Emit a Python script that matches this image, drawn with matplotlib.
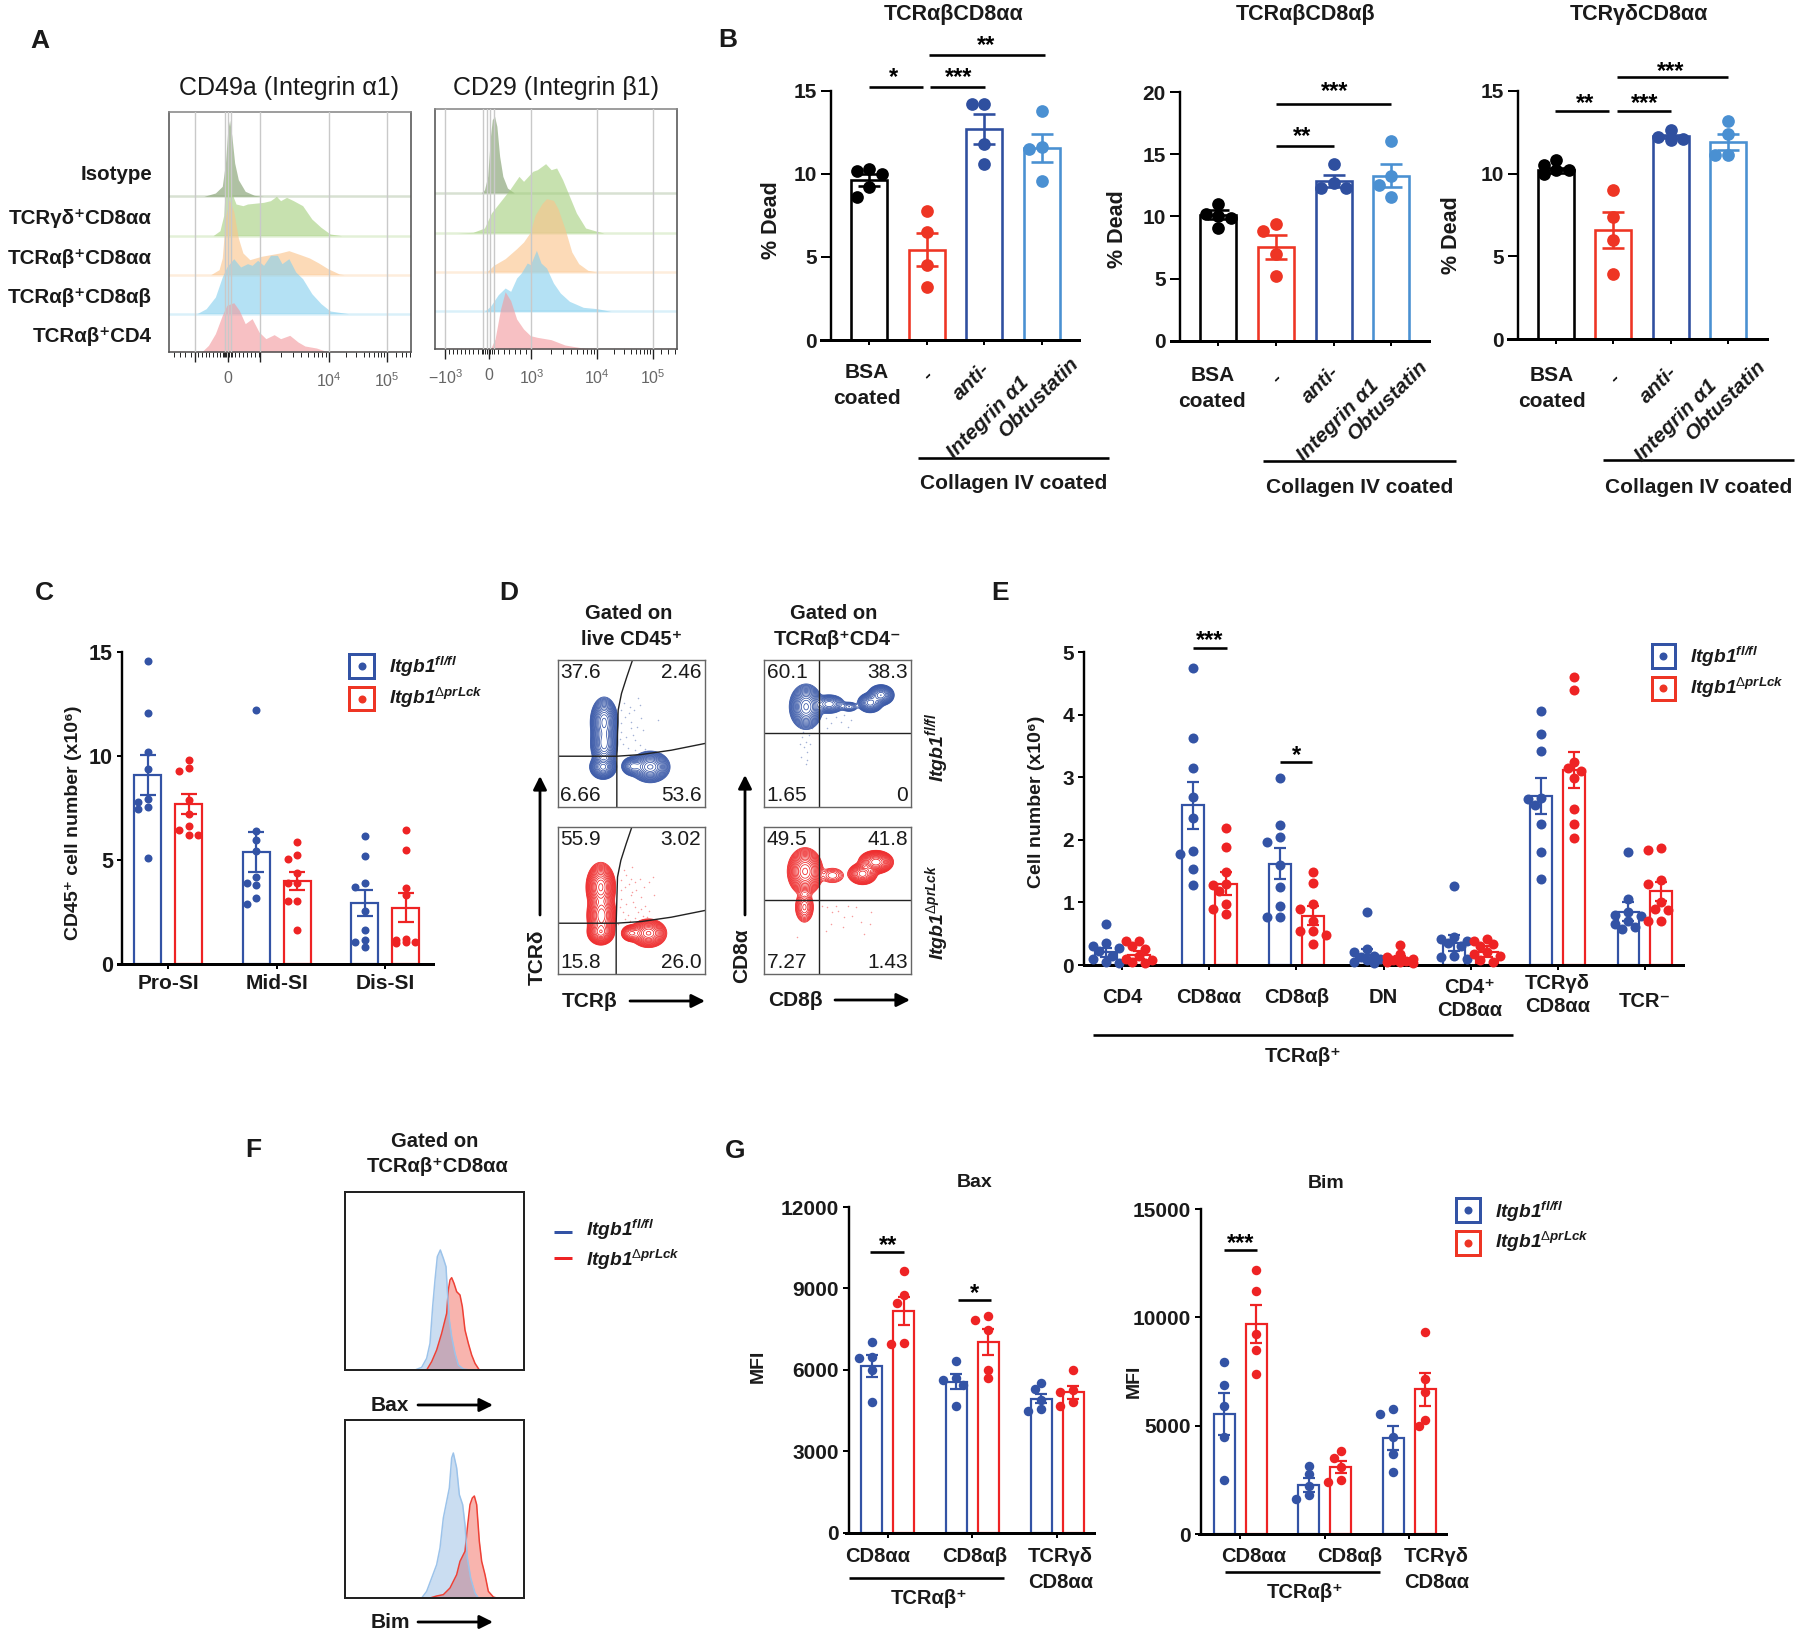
import numpy as np
import matplotlib
matplotlib.use("Agg")
import matplotlib.pyplot as plt
from matplotlib.patches import Rectangle

plt.rcParams['font.family'] = ['Liberation Sans', 'DejaVu Sans']
plt.rcParams['mathtext.fontset'] = 'custom'
plt.rcParams['mathtext.rm'] = 'Liberation Sans'
plt.rcParams['mathtext.it'] = 'Liberation Sans:italic'
plt.rcParams['mathtext.bf'] = 'Liberation Sans:bold'
plt.rcParams['mathtext.bfit'] = 'Liberation Sans:italic:bold'

W, H = 1800, 1635
BLUE, RED, LBLUE = '#3353a5', '#ee2324', '#4a90d2'
BRED = '#ee3524'
FL = r'$\mathbfit{Itgb1}^{\mathbfit{fl/fl}}$'
DP = r'$\mathbfit{Itgb1}^{\Delta\mathbfit{prLck}}$'

# ---------- Panel A: histograms (channel position, height above row baseline)
a_rows = ['Isotype', 'TCRγδ⁺CD8αα', 'TCRαβ⁺CD8αα', 'TCRαβ⁺CD8αβ', 'TCRαβ⁺CD4']
a_left_x = [
    [445, 470, 485, 492, 497, 501, 506, 512, 520, 535, 555, 575],
    [465, 480, 488, 493, 498, 505, 515, 530, 540, 575, 590, 603, 612, 625, 640, 660, 680, 700, 720, 745],
    [460, 478, 485, 492, 500, 510, 520, 530, 545, 570, 590, 610, 630, 655, 675, 695, 715, 740, 750],
    [430, 450, 470, 485, 495, 510, 525, 540, 550, 562, 575, 590, 605, 615, 630, 645, 660, 680, 700, 720, 760],
    [440, 455, 470, 485, 495, 510, 522, 535, 550, 565, 580, 598, 612, 632, 650, 665, 690, 715]]
a_left_h = [
    [0, 10, 30, 100, 200, 228, 180, 100, 50, 15, 3, 0],
    [0, 15, 60, 170, 222, 130, 95, 90, 95, 100, 105, 118, 105, 115, 105, 90, 50, 25, 5, 0],
    [0, 15, 50, 170, 225, 190, 110, 65, 45, 55, 60, 65, 72, 60, 50, 35, 18, 2, 0],
    [0, 15, 50, 110, 140, 165, 140, 150, 145, 160, 145, 175, 175, 150, 165, 125, 105, 60, 30, 8, 0],
    [0, 20, 55, 110, 140, 148, 125, 85, 100, 60, 40, 52, 40, 50, 30, 18, 12, 0]]
a_right_x = [
    [1048, 1055, 1062, 1068, 1072, 1077, 1082, 1088, 1095, 1105, 1120],
    [995, 1030, 1055, 1070, 1090, 1110, 1130, 1140, 1160, 1170, 1188, 1200, 1212, 1225, 1240, 1255, 1275, 1300, 1315],
    [1060, 1075, 1100, 1125, 1140, 1155, 1165, 1180, 1190, 1205, 1215, 1230, 1245, 1260, 1280, 1300],
    [1055, 1068, 1085, 1100, 1112, 1125, 1135, 1148, 1155, 1168, 1178, 1190, 1205, 1220, 1240, 1270, 1300, 1330],
    [1068, 1078, 1090, 1100, 1112, 1125, 1140, 1155, 1170, 1200, 1230, 1260, 1285]]
a_right_h = [
    [0, 10, 50, 170, 220, 230, 200, 110, 50, 15, 0],
    [0, 2, 15, 60, 95, 130, 170, 155, 185, 190, 208, 190, 195, 160, 110, 60, 15, 5, 0],
    [0, 20, 40, 70, 90, 120, 170, 205, 220, 215, 190, 130, 60, 25, 5, 0],
    [0, 15, 50, 70, 60, 100, 115, 145, 140, 183, 145, 130, 85, 55, 30, 12, 8, 0],
    [0, 30, 120, 172, 145, 90, 60, 40, 35, 28, 12, 5, 0]]
a_colors = ['#7f9c6b', '#a5d07f', '#fbc48c', '#86d0ee', '#f39a9e']

# ---------- Panel B
b_titles = ['TCRαβCD8αα', 'TCRαβCD8αβ', 'TCRγδCD8αα']
b1_means = [9.65, 5.45, 12.7, 11.55]
b1_sem = [0.35, 1.0, 0.9, 0.85]
b1_pts = [[10.3, 10.0, 10.2, 9.2, 8.6], [7.8, 6.5, 4.5, 3.2], [14.2, 14.2, 11.8, 10.6], [13.8, 11.6, 11.5, 9.6]]
b2_means = [10.15, 7.55, 12.85, 13.3]
b2_sem = [0.35, 0.95, 0.5, 0.95]
b2_pts = [[11.0, 10.2, 10.0, 9.9, 9.05], [9.4, 8.8, 7.0, 5.2], [14.2, 12.7, 12.3, 12.3], [16.1, 13.3, 12.5, 11.6]]
b3_means = [10.2, 6.6, 12.25, 11.9]
b3_sem = [0.15, 1.1, 0.1, 0.5]
b3_pts = [[10.8, 10.5, 10.2, 10.2, 10.0], [9.0, 7.35, 6.0, 3.95], [12.6, 12.2, 12.1, 12.05], [13.2, 12.4, 11.1, 11.1]]
b_colors = ['black', BRED, '#2f4f9f', LBLUE]

# ---------- Panel C
c_groups = ['Pro-SI', 'Mid-SI', 'Dis-SI']
c_fl_means = [9.1, 5.4, 2.95]
c_fl_sem = [0.98, 0.95, 0.62]
c_fl_pts = [[14.6, 12.1, 10.2, 9.4, 7.95, 7.8, 7.55, 7.45, 5.1],
            [12.2, 6.4, 5.95, 5.45, 4.2, 3.9, 3.8, 3.2, 2.9],
            [6.15, 5.2, 3.9, 3.7, 2.55, 1.65, 1.15, 1.05, 0.8]]
c_dp_means = [7.7, 4.0, 2.7]
c_dp_sem = [0.5, 0.45, 0.7]
c_dp_pts = [[9.8, 9.45, 9.3, 7.9, 7.2, 6.65, 6.45, 6.2, 6.2],
            [5.85, 5.25, 5.05, 4.4, 3.9, 3.9, 3.05, 3.05, 1.65],
            [6.45, 5.5, 3.65, 3.3, 1.2, 1.15, 1.05, 1.05, 1.0]]

# ---------- Panel D: flow plots
d_tl_blobs = [(139, 185, 14, 25, 1), (139, 250, 14, 25, .85), (136, 320, 14, 13, .8),
              (277, 320, 20, 16, 1), (225, 318, 13, 11, .35)]
d_bl_blobs = [(129, 180, 15, 25, 1), (131, 265, 15, 26, .9), (129, 315, 14, 13, .8),
              (272, 318, 19, 15, .75), (220, 318, 12, 10, .25)]
d_tr_blobs = [(126, 140, 17, 23, 1), (195, 132, 18, 11, .3), (255, 140, 12, 7, .08),
              (318, 128, 14, 11, .5), (350, 105, 14, 11, .7)]
d_br_blobs = [(123, 133, 18, 24, 1), (121, 240, 12, 20, .15), (205, 145, 18, 12, .06),
              (335, 105, 18, 12, .9), (295, 140, 16, 12, .5)]
d_tl_vals = ['37.6', '2.46', '6.66', '53.6']
d_bl_vals = ['55.9', '3.02', '15.8', '26.0']
d_tr_vals = ['60.1', '38.3', '1.65', '0']
d_br_vals = ['49.5', '41.8', '7.27', '1.43']
d_tl_dots_x = [190, 200, 212, 220, 228, 236, 245, 190, 205, 218, 232, 250, 195, 210, 225, 245, 260, 190, 215, 240, 185, 198, 230, 255, 300]
d_tl_dots_y = [150, 170, 160, 185, 150, 200, 135, 215, 230, 205, 240, 175, 250, 262, 225, 255, 265, 190, 140, 115, 235, 130, 270, 210, 180]
d_bl_dots_x = [190, 200, 212, 222, 232, 245, 258, 272, 285, 190, 205, 218, 232, 248, 262, 195, 210, 225, 240, 255, 272, 190, 205, 220, 235, 200, 215, 232, 250, 268, 186, 198, 288, 180, 222]
d_bl_dots_y = [160, 180, 170, 195, 165, 155, 180, 165, 150, 215, 230, 205, 240, 210, 235, 255, 262, 225, 255, 265, 250, 190, 145, 155, 190, 275, 280, 272, 245, 270, 240, 130, 205, 290, 120]
d_tr_dots_x = [115, 125, 135, 120, 130, 112, 128, 118, 138, 125, 185, 200, 215, 230, 250, 190, 240, 108, 145, 260]
d_tr_dots_y = [230, 245, 225, 260, 275, 290, 300, 215, 250, 310, 175, 190, 170, 185, 200, 205, 165, 250, 205, 180]
d_br_dots_x = [190, 205, 222, 240, 262, 290, 318, 200, 235, 275, 320, 175, 185, 215, 100, 250, 298]
d_br_dots_y = [240, 255, 250, 270, 265, 285, 290, 290, 300, 240, 255, 235, 310, 235, 330, 235, 320]

# ---------- Panel E
e_groups = ['CD4', 'CD8αα', 'CD8αβ', 'DN', 'CD4⁺\nCD8αα', 'TCRγδ\nCD8αα', 'TCR⁻']
e_fl_means = [.2, 2.55, 1.62, .16, .35, 2.7, .85]
e_fl_sem = [.07, .38, .25, .1, .13, .29, .15]
e_fl_pts = [[.66, .35, .3, .27, .22, .15, .1, .05, .03],
            [4.75, 3.63, 3.15, 2.69, 2.35, 1.82, 1.78, 1.53, 1.28],
            [2.99, 2.24, 2.05, 1.97, 1.6, 1.25, .95, .76, .76],
            [.84, .25, .2, .15, .12, .1, .08, .05, .03],
            [1.26, .44, .42, .38, .35, .3, .15, .13, .1],
            [4.05, 3.69, 3.42, 2.67, 2.65, 2.55, 2.25, 1.8, 1.37],
            [1.8, 1.05, .85, .8, .78, .7, .65, .6, .58]]
e_dp_means = [.16, 1.3, .79, .1, .21, 3.12, 1.18]
e_dp_sem = [.06, .18, .15, .05, .09, .29, .15]
e_dp_pts = [[.39, .39, .3, .25, .15, .1, .08, .05, .03],
            [2.19, 1.89, 1.48, 1.3, 1.28, 1.18, .98, .9, .82],
            [1.48, 1.31, .98, .9, .7, .55, .55, .48, .33],
            [.32, .18, .13, .1, .08, .07, .05, .04, .03],
            [.42, .38, .33, .3, .2, .18, .15, .08, .05],
            [4.6, 4.4, 3.25, 3.15, 3.1, 2.98, 2.5, 2.25, 2.03],
            [1.87, 1.84, 1.35, 1.3, 1.0, .9, .88, .7, .7]]

# ---------- Panel F histograms
f_bax_fl_x = [555, 575, 590, 600, 608, 615, 622, 631, 640, 648, 652, 658, 665, 675, 685, 700, 720]
f_bax_fl_h = [0, 8, 35, 80, 190, 270, 340, 360, 335, 310, 240, 150, 100, 50, 15, 3, 0]
f_bax_dp_x = [590, 605, 620, 635, 650, 655, 660, 665, 672, 680, 690, 697, 705, 715, 725, 735, 748]
f_bax_dp_h = [0, 25, 60, 110, 170, 240, 270, 277, 260, 235, 225, 190, 120, 80, 45, 20, 0]
f_bim_fl_x = [575, 590, 605, 620, 630, 640, 650, 658, 665, 670, 680, 688, 698, 705, 712, 722, 735, 745]
f_bim_fl_h = [0, 20, 60, 100, 150, 240, 290, 330, 420, 435, 390, 310, 280, 220, 120, 60, 15, 0]
f_bim_dp_x = [600, 620, 640, 660, 680, 690, 705, 712, 720, 727, 733, 740, 748, 755, 765, 775, 790, 800]
f_bim_dp_h = [0, 6, 10, 30, 70, 110, 140, 210, 280, 300, 306, 280, 170, 110, 70, 20, 3, 0]

# ---------- Panel G
g_bax_fl_means = [6150, 5570, 4940]
g_bax_fl_sem = [400, 270, 170]
g_bax_fl_pts = [[7020, 6490, 6420, 6000, 4800], [6340, 5700, 5620, 5450, 4680], [5500, 5300, 4900, 4550, 4500]]
g_bax_dp_means = [8180, 7020, 5180]
g_bax_dp_sem = [520, 490, 240]
g_bax_dp_pts = [[9650, 8750, 8480, 7000, 6950], [8000, 7850, 7450, 6000, 5700], [5990, 5250, 5200, 4800, 4650]]
g_bim_fl_means = [5550, 2250, 4420]
g_bim_fl_sem = [970, 330, 560]
g_bim_fl_pts = [[7950, 6900, 5900, 4500, 2500], [3150, 2750, 2200, 1800, 1600], [5750, 5550, 4500, 3700, 2850]]
g_bim_dp_means = [9700, 3080, 6680]
g_bim_dp_sem = [880, 285, 770]
g_bim_dp_pts = [[12200, 11200, 9250, 8500, 7400], [3830, 3500, 3100, 2500, 2400], [9320, 7150, 6550, 5250, 5000]]

# =====================================================================
fig = plt.figure(figsize=(W / 100, H / 100), dpi=100, facecolor='white')
PT = 100 / 72


def bx(x):
    return 720 + (x - 720) * 0.9945


def ex(x):
    return 1000 + (x - 1000) * 0.9949


def gx(x):
    return 720 + (x - 720) * 0.9948


def ax_px(x0, x1, ytop, ybot):
    return fig.add_axes([x0 / W, 1 - ybot / H, (x1 - x0) / W, (ybot - ytop) / H])


ov = fig.add_axes([0, 0, 1, 1], zorder=20)
ov.set_xlim(0, W)
ov.set_ylim(H, 0)
ov.axis('off')
ov.patch.set_alpha(0)


def T(x, y, s, size=15, weight='bold', ha='center', va='center', **kw):
    ov.text(x, y, s, fontsize=size, fontweight=weight, ha=ha, va=va, color=kw.pop('color', '#1a1a1a'), **kw)


def L(x0, x1, y, lw=2.6, c='black'):
    ov.plot([x0, x1], [y, y], color=c, lw=lw / PT, solid_capstyle='butt')


def star(x, y, s, size=17):
    T(x, y + 5, s, size=size, color='black')


def arrow(x0, y0, x1, y1):
    ov.annotate('', xy=(x1, y1), xytext=(x0, y0),
                arrowprops=dict(arrowstyle='-|>', lw=2.0, color='black', mutation_scale=20,
                                shrinkA=0, shrinkB=0))


def swarm(vals, k, dot, step, maxoff):
    cands = [0, -step, step, -2 * step, 2 * step, -3 * step, 3 * step]
    cands = [c for c in cands if abs(c) <= maxoff]
    placed = []
    for v in sorted(vals, reverse=True):
        y = v * k
        best, bestd = 0, -1
        for off in cands:
            d = min([np.hypot(off - o, y - q) for q, o in placed], default=1e9)
            if d >= dot * .85:
                best = off
                break
            if d > bestd:
                best, bestd = off, d
        placed.append((y, best))
    return np.array([p[0] / k for p in placed]), np.array([p[1] for p in placed])


def bar_panel(x0, x1, spine_x, ytop, ybot, ymax, yticks, c0, pitch, barw, series, labels_fs=15,
              dot=13, step=9, lw=2.4, xticks=None, ticklen=5, ylen=6):
    ax = ax_px(x0, x1, ytop, ybot)
    ax.set_xlim((x0 - c0) / pitch, (x1 - c0) / pitch)
    ax.set_ylim(0, ymax)
    ax.patch.set_alpha(0)
    k = (ybot - ytop) / ymax
    for s in ('top', 'right'):
        ax.spines[s].set_visible(False)
    ax.spines['left'].set_position(('data', (spine_x - c0) / pitch))
    ax.spines['left'].set_linewidth(2.4 / PT)
    ax.spines['bottom'].set_linewidth(3.0 / PT)
    ax.set_yticks(yticks)
    ax.tick_params(axis='y', length=ylen / PT, width=2 / PT, labelsize=labels_fs, pad=3)
    for t in ax.get_yticklabels():
        t.set_fontweight('bold')
        t.set_color('#1a1a1a')
    ax.set_xticks(xticks if xticks is not None else [])
    ax.set_xticklabels([])
    ax.tick_params(axis='x', length=ticklen / PT, width=2 / PT)
    for pos, means, sem, pts, col in series:
        ax.bar(pos, means, width=barw / pitch, fill=False, edgecolor=col, linewidth=lw / PT, zorder=2)
        ax.errorbar(pos, means, yerr=sem, fmt='none', ecolor=col, elinewidth=lw / PT,
                    capsize=barw * .3 / PT, capthick=lw / PT, zorder=4)
        for p, vals in zip(pos, pts):
            v, o = swarm(vals, k, dot, step, barw * .62)
            ax.scatter(p + o / pitch, v, s=(dot / PT) ** 2, color=col, linewidths=0, zorder=3, clip_on=False)
    return ax


def legend(x0, x1, y0, y1, y2, y3, tx, ty0, ty1, dot=8, size=13.8):
    for (a, b, c) in ((y0, y1, BLUE), (y2, y3, BRED)):
        ov.add_patch(Rectangle((x0, a), x1 - x0, b - a, fill=False, ec=c, lw=3 / PT))
        ov.scatter([(x0 + x1) / 2], [(a + b) / 2], s=(dot / PT) ** 2, color=c, linewidths=0)
    T(tx, ty0, FL, size=size, ha='left')
    T(tx, ty1, DP, size=size, ha='left')


# ---------- A
def hist_panel(x0, x1, ytop, ybot, xl, baselines, xs, hs, vgrid, majors, minors, labels):
    ax = ax_px(x0, x1, ytop, ybot)
    ax.set_xlim(*xl)
    ax.set_ylim(0, (ybot - ytop) * 3)
    for g in vgrid:
        ax.axvline(g, color='#c9c9c9', lw=1.4 / PT, zorder=4)
    for b, x, h, c in zip(baselines, xs, hs, a_colors):
        ax.fill_between(x, b, np.array(h) + b, color=c, alpha=.62, lw=0, zorder=2)
        ax.axhline(b, color=c, alpha=.3, lw=2.5 / PT, zorder=1)
    ax.set_yticks([])
    ax.set_xticks(majors)
    ax.set_xticklabels(labels, fontsize=11.5, color='#666666')
    ax.set_xticks(minors, minor=True)
    ax.tick_params(axis='x', which='major', length=7, width=1.0, color='#222222', pad=7)
    ax.tick_params(axis='x', which='minor', length=3.5, width=.7, color='#222222')
    for s in ax.spines.values():
        s.set_color('#555555')
        s.set_linewidth(1.6 / PT)
    ax.spines['top'].set_color('#888888')


def decade(s, e, n=10):
    return [s + (e - s) * np.log10(i) for i in range(2, n)]


al_majors = [425, 497, 567, 717, 843]
al_minor = list(range(380, 425, 12)) + list(range(433, 490, 8)) + [486, 490, 493, 500, 503, 506] + \
    list(range(512, 567, 9)) + decade(567, 717) + decade(717, 843) + [864, 876, 886, 893]
ar_majors = [970, 1065, 1157, 1300, 1421]
ar_minor = list(range(977, 1050, 9)) + [1052, 1056, 1060, 1068, 1071, 1075] + list(range(1085, 1157, 12)) + \
    decade(1157, 1300) + decade(1300, 1421) + [1440, 1455, 1470]
hist_panel(169, 411, 112, 352, (369, 896), [467, 349, 232, 115, 0], a_left_x, a_left_h,
           [425, 490, 497, 503, 567, 717, 843], al_majors, al_minor, ['', '0', '', '$10^{4}$', '$10^{5}$'])
hist_panel(435.3, 676.6, 109, 349, (948, 1473), [468, 348, 231, 113, 0], a_right_x, a_right_h,
           [970, 1052, 1060, 1068, 1075, 1157, 1300, 1421], ar_majors, ar_minor,
           ['$-10^{3}$', '0', '$10^{3}$', '$10^{4}$', '$10^{5}$'])
T(289, 88, 'CD49a (Integrin α1)', size=18, weight='normal')
T(556, 88, 'CD29 (Integrin β1)', size=18, weight='normal')
for y, s in zip([174, 218, 258, 297, 336], a_rows):
    T(152, y, s, size=14.8, ha='right')

# ---------- panel letters
for x, y, s in [(40, 41, 'A'), (728, 40, 'B'), (44, 593, 'C'), (509, 593, 'D'), (1000, 593, 'E'),
                (253, 1150, 'F'), (735, 1151, 'G')]:
    T(x, y, s, size=19)

# ---------- B
b_sets = [(820.7, 1079.3, 831, 91, 340, 15, [0, 5, 10, 15], 869, 57.5, b1_means, b1_sem, b1_pts),
          (bx(1173), bx(1433), bx(1182.6), 92.3, 340.7, 20, [0, 5, 10, 15, 20], bx(1221), 57.7, b2_means, b2_sem, b2_pts),
          (1507.7, 1766.7, 1518, 90.7, 339.3, 15, [0, 5, 10, 15], 1556, 57.3, b3_means, b3_sem, b3_pts)]
for x0, x1, sx, yt, yb, ym, ticks, c0, pitch, means, sem, pts in b_sets:
    pos = np.arange(len(means))
    series = [([p], [m], [e], [q], c) for p, m, e, q, c in zip(pos, means, sem, pts, b_colors)]
    bar_panel(x0, x1, sx, yt, yb, ym, ticks, c0, pitch, 36, series, dot=12.7, step=12.5, lw=2.6,
              xticks=pos, ticklen=5, ylen=10)
for x, s in zip([955, 1309, 1644], b_titles):
    T(bx(x), 14, s, size=15.5)
for x, y in [(772, 220), (1120, 229), (1455.5, 235)]:
    T(bx(x), y, '% Dead', size=15.5, rotation=90)
for dx, dy, cx, lx0, lx1, ly, ty in [(0, 0, 867.5, 919, 1111, 457.7, 483),
                                     (351, 3, 1215, 1266, 1459.6, 461, 487),
                                     (691, 3, 1556.5, 1608, 1800, 460, 487)]:
    T(bx(cx), 372 + dy, 'BSA')
    T(bx(cx), 398 + dy, 'coated')
    T(bx(929 + dx), 375 + dy, '-', style='italic', rotation=45)
    T(bx(973 + dx), 382 + dy, 'anti-', style='italic', rotation=45)
    T(bx(990 + dx), 417 + dy, 'Integrin α1', style='italic', rotation=45)
    T(bx(1041 + dx), 397 + dy, 'Obtustatin', style='italic', rotation=45)
    L(bx(lx0), bx(lx1), ly)
    T(bx((lx0 + lx1) / 2), ty, 'Collagen IV coated')
for x0, x1, y, sx, sy, s in [(869.6, 924, 86.7, 894, 73, '*'), (931, 986.6, 86.7, 960, 73, '***'),
                             (930, 1047, 55, 988, 41, '**'), (1279, 1337, 145.7, 1305, 131.7, '**'),
                             (1279, 1395, 104, 1338, 87, '***'), (1560, 1614, 111, 1590, 99, '**'),
                             (1622, 1676, 111, 1650, 99, '***'), (1622, 1734, 76.7, 1675.6, 66.7, '***')]:
    L(bx(x0), bx(x1), y)
    star(bx(sx), sy, s)

# ---------- C
cp = np.arange(3)
bar_panel(118, 433, 122, 652.3, 964, 15, [0, 5, 10, 15], 168, 108.5, 27,
          [(cp - 20.5 / 108.5, c_fl_means, c_fl_sem, c_fl_pts, BLUE),
           (cp + 20.5 / 108.5, c_dp_means, c_dp_sem, c_dp_pts, RED)],
          labels_fs=15.5, dot=8, step=9.5, lw=2.2, xticks=cp, ylen=5)
for x, s in zip([168, 277, 385], c_groups):
    T(x, 983, s, size=15)
T(73, 823, 'CD45⁺ cell number (x10⁶)', size=14, rotation=90)
legend(349, 374, 654, 678, 687, 710, 389, 667, 698)


# ---------- D
def flow(x0, ytop, blobs, col, dx, dy, vline, hline, gate, vals):
    ax = ax_px(x0, x0 + 147, ytop, ytop + 147)
    ax.set_xlim(0, 440)
    ax.set_ylim(440, 0)
    X, Y = np.meshgrid(np.linspace(0, 440, 441), np.linspace(0, 440, 441))
    Z = np.zeros_like(X)
    for cx, cy, sx, sy, a in blobs:
        Z += a * np.exp(-((X - cx) ** 2 / (2 * sx ** 2) + (Y - cy) ** 2 / (2 * sy ** 2)))
    ax.contour(X, Y, Z, levels=np.geomspace(.012, .92, 17), colors=col, linewidths=.55)
    ax.scatter(dx, dy, s=1.2, color=col, alpha=.45, linewidths=0)
    if gate:
        ax.plot([0, vline, 250, 340, 440], [hline, hline, 283, 270, 250], color='#222222', lw=1.0)
        ax.plot([vline, vline, vline + 4, vline + 14, vline + 30, vline + 47],
                [440, hline, 150, 100, 50, 0], color='#222222', lw=1.0)
    else:
        ax.axvline(vline, color='#222222', lw=1.0)
        ax.axhline(hline, color='#222222', lw=1.0)
    ax.set_xticks([])
    ax.set_yticks([])
    for s in ax.spines.values():
        s.set_color('#666666')
        s.set_linewidth(1.4 / PT)
    for (px, py, ha), v in zip([(8, 38, 'left'), (430, 38, 'right'), (8, 406, 'left'), (430, 406, 'right')], vals):
        ax.text(px, py, v, fontsize=15, ha=ha, va='center', color='#1a1a1a')


flow(557.7, 660, d_tl_blobs, BLUE, d_tl_dots_x, d_tl_dots_y, 177, 288, True, d_tl_vals)
flow(557.7, 827, d_bl_blobs, RED, d_bl_dots_x, d_bl_dots_y, 175, 288, True, d_bl_vals)
flow(764, 660, d_tr_blobs, BLUE, d_tr_dots_x, d_tr_dots_y, 164, 218, False, d_tr_vals)
flow(764, 827, d_br_blobs, RED, d_br_dots_x, d_br_dots_y, 164, 218, False, d_br_vals)
T(629, 613, 'Gated on', size=14.5)
T(632, 639, 'live CD45⁺', size=14.5)
T(834, 613, 'Gated on', size=14.5)
T(838, 639, 'TCRαβ⁺CD4⁻', size=14.5)
arrow(540, 915, 540, 776)
arrow(745, 915, 745, 775)
arrow(630, 1001, 705, 1001)
arrow(835, 1000, 910, 1000)
T(537, 957, 'TCRδ', rotation=90)
T(742, 956, 'CD8α', rotation=90)
T(590, 1001, 'TCRβ')
T(795, 1000, 'CD8β')
T(937, 747, FL, size=14, rotation=90)
T(937, 912, DP, size=14, rotation=90)

# ---------- E
ep = np.arange(7)
bar_panel(ex(1084.6), ex(1686), ex(1084.6), 652, 965, 5, [0, 1, 2, 3, 4, 5], ex(1123), 87.05, 21.5,
          [(ep - 16.4 / 87.05, e_fl_means, e_fl_sem, e_fl_pts, BLUE),
           (ep + 16.4 / 87.05, e_dp_means, e_dp_sem, e_dp_pts, RED)],
          labels_fs=15, dot=10, step=6.5, lw=2.2, xticks=ep)
for x, y, s in [(1123, 997, e_groups[0]), (1210, 997, e_groups[1]), (1298, 997, e_groups[2]),
                (1385, 997, e_groups[3]), (1472, 999, e_groups[4]), (1560.5, 995, e_groups[5]),
                (1648, 1001, e_groups[6])]:
    T(ex(x), y, s, size=14.5, linespacing=1.25)
L(ex(1093), ex(1516), 1035)
T(ex(1305), 1056, 'TCRαβ⁺', size=14.5)
T(ex(1037), 802, 'Cell number (x10⁶)', size=14, rotation=90)
L(ex(1194), ex(1228), 647.7)
star(ex(1211), 636, '***')
L(ex(1281.5), ex(1314), 761.7)
star(ex(1298), 751, '*')
legend(ex(1655), ex(1678), 644, 667.7, 676.7, 700, ex(1694), 657, 688)


# ---------- F
def fhist(ytop, ybot, blue_x, blue_h, red_x, red_h):
    ax = ax_px(345, 524, ytop, ybot)
    ax.set_xlim(345, 882)
    ax.set_ylim(0, (ybot - ytop) * 3)
    ax.fill_between(red_x, 0, red_h, color='#ee3b2b', alpha=.38, lw=0)
    ax.plot(red_x, red_h, color='#ee4136', lw=1.1)
    ax.fill_between(blue_x, 0, blue_h, color='#5b96d6', alpha=.32, lw=0)
    ax.plot(blue_x, blue_h, color='#9cc3ea', lw=1.1)
    ax.set_xticks([])
    ax.set_yticks([])
    for s in ax.spines.values():
        s.set_color('#222222')
        s.set_linewidth(2 / PT)


fhist(1192, 1370, f_bax_fl_x, f_bax_fl_h, f_bax_dp_x, f_bax_dp_h)
fhist(1420, 1598, f_bim_fl_x, f_bim_fl_h, f_bim_dp_x, f_bim_dp_h)
T(435, 1141, 'Gated on', size=14.5)
T(438, 1166, 'TCRαβ⁺CD8αα', size=14.5)
T(390, 1405, 'Bax', size=15)
T(390, 1622, 'Bim', size=15)
arrow(418, 1405, 493, 1405)
arrow(418, 1622, 493, 1622)
L(554, 572, 1232, lw=3, c=BLUE)
L(554, 572, 1258, lw=3, c=RED)
T(586, 1230, FL, size=13.8, ha='left')
T(586, 1260, DP, size=13.8, ha='left')

# ---------- G
gp = np.arange(3)
bar_panel(gx(847), gx(1096), gx(850), 1207, 1532.7, 12000, [0, 3000, 6000, 9000, 12000], gx(888.5), 84.8, 21,
          [(gp - 16 / 84.8, g_bax_fl_means, g_bax_fl_sem, g_bax_fl_pts, BLUE),
           (gp + 16 / 84.8, g_bax_dp_means, g_bax_dp_sem, g_bax_dp_pts, RED)],
          labels_fs=15, dot=9.5, step=6.5, lw=2.2, xticks=gp)
bar_panel(gx(1202), gx(1450), gx(1203.6), 1209, 1534, 15000, [0, 5000, 10000, 15000], gx(1243), 84.6, 21,
          [(gp - 16 / 84.6, g_bim_fl_means, g_bim_fl_sem, g_bim_fl_pts, BLUE),
           (gp + 16 / 84.6, g_bim_dp_means, g_bim_dp_sem, g_bim_dp_pts, RED)],
          labels_fs=15, dot=9.5, step=6.5, lw=2.2, xticks=gp)
T(gx(975.6), 1182, 'Bax', size=14)
T(gx(1329), 1183, 'Bim', size=14)
T(gx(758.7), 1366, 'MFI', size=14, rotation=90)
T(gx(1136.6), 1381, 'MFI', size=14, rotation=90)
for x, s in [(878.7, 'CD8αα'), (975.6, 'CD8αβ'), (1062, 'TCRγδ'), (1256.6, 'CD8αα'), (1353, 'CD8αβ'), (1440, 'TCRγδ')]:
    T(gx(x), 1556, s, size=14.5)
for x in (1062, 1440):
    T(gx(x), 1582, 'CD8αα', size=14.5)
L(gx(850), gx(1005.6), 1577.7)
T(gx(930.6), 1598, 'TCRαβ⁺', size=14.5)
L(gx(1228), gx(1383.6), 1572)
T(gx(1308.6), 1592.7, 'TCRαβ⁺', size=14.5)
L(gx(871), gx(904.6), 1251.7)
star(gx(888.5), 1240.7, '**')
L(gx(959), gx(992), 1300)
star(gx(975.6), 1289, '*')
L(gx(1226.6), gx(1259.5), 1250)
star(gx(1243), 1239, '***')
legend(gx(1460), gx(1484), 1198, 1222, 1231, 1255, gx(1499), 1212, 1242)

fig.savefig('out.png', dpi=100)
